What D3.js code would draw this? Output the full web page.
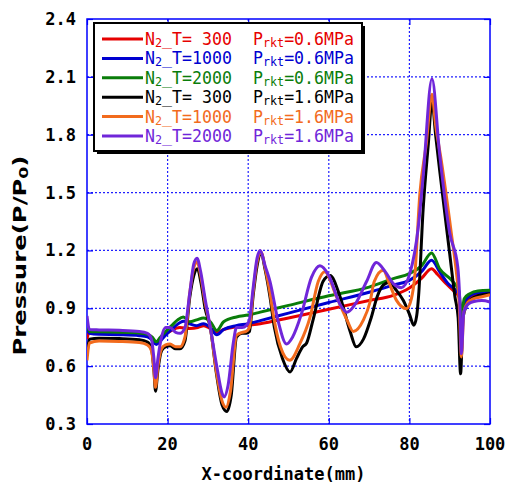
<!DOCTYPE html>
<html>
<head>
<meta charset="utf-8">
<script src="https://cdn.jsdelivr.net/npm/d3@7"></script>
<style>
  body { margin: 0; background: #fff; }
  text { white-space: pre; }
</style>
</head>
<body>
<script>
// series values: [x (mm), P/P0]
var redData = [[0,0.74],[0.6,0.78],[3,0.778],[8,0.775],[13,0.77],[15,0.765],[16.2,0.745],[17.1,0.72],[18,0.74],[19.5,0.765],[21,0.785],[23,0.8],[25.5,0.795],[27.5,0.8],[29,0.81],[30.6,0.795],[32.2,0.776],[33.9,0.79],[37,0.804],[40,0.812],[43,0.82],[50,0.85],[60,0.895],[70,0.94],[76,0.967],[80,1.005],[83,1.055],[85.5,1.105],[87,1.075],[89,1.03],[91,0.99],[92.3,0.96],[92.9,0.82],[93.6,0.92],[95,0.96],[97,0.975],[100,0.985]];
var blueData = [[0,0.8],[0.6,0.77],[3,0.765],[8,0.763],[13,0.758],[15,0.752],[16.2,0.735],[17.2,0.712],[18.2,0.73],[19.5,0.76],[21,0.79],[23,0.825],[24,0.833],[25.5,0.82],[27.2,0.81],[28.9,0.82],[30.6,0.8],[32.2,0.763],[33.9,0.79],[37,0.81],[40,0.82],[43,0.836],[50,0.875],[60,0.93],[70,0.983],[76,1.02],[80,1.045],[83,1.09],[85.5,1.149],[87.5,1.09],[89.5,1.03],[91.5,0.993],[92.3,0.97],[92.9,0.84],[93.6,0.93],[95,0.965],[97,0.98],[100,0.985]];
var greenData = [[0,0.82],[0.6,0.78],[3,0.778],[8,0.776],[13,0.772],[15,0.765],[16.2,0.75],[17.2,0.726],[18.2,0.75],[19.5,0.78],[21,0.81],[22.5,0.84],[23.9,0.855],[25.5,0.83],[27.2,0.84],[28.9,0.85],[30.6,0.83],[32.2,0.785],[33.9,0.83],[37.1,0.855],[40,0.865],[43,0.88],[50,0.915],[60,0.965],[70,1.01],[76,1.054],[80,1.08],[83,1.12],[85.5,1.187],[87.5,1.105],[90.5,1.045],[92.3,0.99],[92.9,0.855],[93.6,0.95],[95,0.976],[97,0.99],[100,0.993]];
var blackData = [[0,0.66],[0.6,0.74],[3,0.745],[8,0.743],[13,0.737],[15,0.725],[16,0.69],[16.6,0.58],[17,0.47],[17.6,0.58],[18.5,0.68],[19.5,0.7],[20.6,0.706],[22,0.69],[23.1,0.69],[24.3,0.73],[25.5,0.957],[26.5,1.07],[27.4,1.105],[28.3,1.03],[29.3,0.9],[30.6,0.8],[32.2,0.55],[33.5,0.4],[34.7,0.365],[35.8,0.45],[37.1,0.75],[38.5,0.77],[39.5,0.77],[40.3,0.78],[41.2,0.96],[42.2,1.12],[43.2,1.185],[44.2,1.1],[45.4,0.96],[46.5,0.8],[48.5,0.64],[50.4,0.57],[52,0.64],[53.5,0.7],[54.5,0.72],[56.1,0.84],[58.6,1.04],[60.3,1.07],[62.8,0.96],[65.3,0.78],[66.8,0.7],[68.6,0.74],[70.5,0.85],[72,0.96],[73.5,1.02],[75.1,1.035],[76.5,1.0],[78.5,0.94],[80,0.87],[81.1,0.812],[81.8,0.86],[82.3,0.97],[83.4,1.41],[84.7,1.754],[85.6,1.975],[86.5,1.8],[87.5,1.616],[90,1.183],[91.3,0.96],[92.1,0.85],[92.7,0.56],[93.3,0.85],[94.3,0.92],[95.5,0.95],[97,0.965],[100,0.976]];
var orangeData = [[0,0.63],[0.6,0.72],[3,0.73],[8,0.728],[13,0.722],[15,0.71],[16,0.68],[16.6,0.58],[17,0.49],[17.6,0.6],[18.5,0.69],[19.5,0.71],[20.6,0.715],[22,0.7],[23.1,0.7],[24.3,0.75],[25.5,0.98],[26.5,1.11],[27.3,1.14],[28.3,1.06],[29.3,0.93],[30.6,0.8],[32.2,0.56],[33.5,0.42],[34.5,0.387],[35.6,0.47],[37.1,0.76],[38.5,0.775],[39.5,0.78],[40.3,0.8],[41.2,0.98],[42.2,1.14],[43.2,1.19],[44.2,1.11],[45.4,0.98],[46.2,0.87],[48,0.7],[50.3,0.63],[52.8,0.715],[55.3,0.85],[57.4,1.04],[59,1.09],[61.9,0.96],[64.5,0.84],[66.1,0.78],[68.6,0.84],[70.2,0.93],[71.3,1.04],[73.5,1.097],[75,1.03],[76.8,0.941],[79.3,0.898],[80.5,0.95],[81.3,1.06],[82.6,1.495],[84.2,1.754],[85.6,2.01],[86.5,1.85],[87.9,1.668],[90.4,1.29],[91.8,1.06],[92.3,0.95],[92.9,0.648],[93.5,0.88],[94.5,0.93],[96,0.95],[98,0.96],[100,0.97]];
var purpleData = [[0,0.86],[0.6,0.79],[3,0.788],[8,0.786],[13,0.78],[15,0.77],[16,0.74],[16.6,0.64],[17,0.54],[17.6,0.64],[18.5,0.75],[19.5,0.8],[20.6,0.8],[22,0.775],[23.1,0.77],[24.3,0.8],[25.5,0.98],[26.5,1.13],[27.3,1.16],[28.2,1.09],[29.3,0.95],[30.6,0.8],[32.2,0.6],[33.5,0.46],[34,0.44],[35,0.5],[36.3,0.72],[37.1,0.8],[38.5,0.8],[39.5,0.81],[40.3,0.84],[41.2,1.0],[42.2,1.16],[43,1.2],[44.2,1.12],[45.4,1.04],[47.4,0.836],[49.5,0.715],[51,0.75],[53.2,0.87],[55.7,1.06],[57.8,1.12],[60,1.07],[62.8,0.92],[64.5,0.88],[66.5,0.92],[69.4,1.04],[71.8,1.137],[74,1.09],[76,1.028],[78,1.007],[80.1,1.08],[82.2,1.32],[83.4,1.58],[85.6,2.09],[87.5,1.70],[90,1.29],[92,1.115],[92.5,0.94],[92.9,0.665],[93.5,0.88],[94.5,0.92],[96,0.935],[98,0.94],[100,0.933]];

var seriesNames = ["red", "blue", "green", "black", "orange", "purple"];
var seriesColors = ["#e60000", "#0000d0", "#0a7d0a", "#000000", "#f26b1d", "#7026d9"];
var seriesData = [redData, blueData, greenData, blackData, orangeData, purpleData];
var legendT = [" 300", "1000", "2000", " 300", "1000", "2000"];
var legendP = ["0.6", "0.6", "0.6", "1.6", "1.6", "1.6"];

var xTicks = [0, 20, 40, 60, 80, 100];
var yTicks = [0.3, 0.6, 0.9, 1.2, 1.5, 1.8, 2.1, 2.4];

var margin = {top: 19, right: 18, bottom: 64, left: 87},
    width = 508 - margin.left - margin.right,
    height = 488 - margin.top - margin.bottom;

var x = d3.scaleLinear().domain([0, 100]).range([0, width]);
var y = d3.scaleLinear().domain([0.3, 2.4]).range([height, 0]);

var svg = d3.select("body").append("svg")
    .attr("width", 508)
    .attr("height", 488)
    .append("g")
        .attr("transform", "translate(" + margin.left + "," + margin.top + ")");

var gridColor = "#2020ff";

// dotted grid
svg.append("g").selectAll("line.gx")
    .data(xTicks.slice(1, -1))
    .enter().append("line")
        .attr("x1", function(d) { return x(d); })
        .attr("x2", function(d) { return x(d); })
        .attr("y1", 0).attr("y2", height)
        .attr("stroke", gridColor)
        .attr("stroke-width", 1.2)
        .attr("stroke-dasharray", "2,2");

svg.append("g").selectAll("line.gy")
    .data(yTicks.slice(1, -1))
    .enter().append("line")
        .attr("y1", function(d) { return y(d); })
        .attr("y2", function(d) { return y(d); })
        .attr("x1", 0).attr("x2", width)
        .attr("stroke", gridColor)
        .attr("stroke-width", 1.2)
        .attr("stroke-dasharray", "2,2");

// inner ticks on all four sides
var xAxisB = d3.axisBottom(x).tickValues(xTicks).tickSize(-6).tickFormat("");
var xAxisT = d3.axisTop(x).tickValues(xTicks).tickSize(-6).tickFormat("");
var yAxisL = d3.axisLeft(y).tickValues(yTicks).tickSize(-6).tickFormat("");
var yAxisR = d3.axisRight(y).tickValues(yTicks).tickSize(-6).tickFormat("");

svg.append("g").attr("transform", "translate(0," + height + ")").call(xAxisB);
svg.append("g").call(xAxisT);
svg.append("g").call(yAxisL);
svg.append("g").attr("transform", "translate(" + width + ",0)").call(yAxisR);
svg.selectAll(".tick line").attr("stroke", "#0000ff").attr("stroke-width", 1.2);
svg.selectAll(".domain").remove();

// frame
svg.append("rect")
    .attr("width", width)
    .attr("height", height)
    .attr("fill", "none")
    .attr("stroke", "#0000ff")
    .attr("stroke-width", 1.5);

// tick labels
var fmt = d3.format(".1f");
svg.append("g").selectAll("text")
    .data(yTicks)
    .enter().append("text")
        .attr("x", -11)
        .attr("y", function(d) { return y(d) + 6; })
        .attr("text-anchor", "end")
        .style("font", "bold 17px 'DejaVu Sans Mono'")
        .text(fmt);

svg.append("g").selectAll("text")
    .data(xTicks)
    .enter().append("text")
        .attr("x", function(d) { return x(d); })
        .attr("y", height + 26)
        .attr("text-anchor", "middle")
        .style("font", "bold 17px 'DejaVu Sans Mono'")
        .text(function(d) { return d; });

svg.append("text")
    .attr("x", width / 2 - 5)
    .attr("y", height + 56)
    .attr("text-anchor", "middle")
    .style("font", "bold 17px 'DejaVu Sans Mono'")
    .text("X-coordinate(mm)");

var yTitle = svg.append("text")
    .attr("transform", "translate(-61," + (height / 2 + 34) + ") rotate(-90)")
    .attr("text-anchor", "middle")
    .attr("textLength", 200)
    .attr("lengthAdjust", "spacingAndGlyphs")
    .style("font", "bold 17px 'DejaVu Sans'");
yTitle.append("tspan").text("Pressure(P/P");
yTitle.append("tspan").attr("font-size", 12).attr("dy", 2).text("0");
yTitle.append("tspan").attr("dy", -2).text(")");

// curves
var line = d3.line()
    .x(function(d) { return x(d[0]); })
    .y(function(d) { return y(d[1]); })
    .curve(d3.curveMonotoneX);

svg.append("clipPath").attr("id", "clip")
    .append("rect").attr("width", width).attr("height", height);

svg.append("g")
    .attr("clip-path", "url(#clip)")
    .selectAll("path")
    .data(seriesData)
    .enter().append("path")
        .attr("class", function(d, i) { return "line " + seriesNames[i]; })
        .attr("d", line)
        .attr("fill", "none")
        .attr("stroke", function(d, i) { return seriesColors[i]; })
        .attr("stroke-width", 3)
        .attr("stroke-linejoin", "round");

// legend
var legend = svg.append("g").attr("transform", "translate(7,4)");
legend.append("rect")
    .attr("x", 3).attr("y", 3)
    .attr("width", 268).attr("height", 128)
    .attr("fill", "#000");
legend.append("rect")
    .attr("width", 268).attr("height", 128)
    .attr("fill", "#fff")
    .attr("stroke", "#000")
    .attr("stroke-width", 2);

var rows = legend.selectAll("g.row")
    .data(seriesColors)
    .enter().append("g")
        .attr("transform", function(d, i) { return "translate(0," + (16 + i * 19.4) + ")"; });

rows.append("line")
    .attr("x1", 8).attr("x2", 49)
    .attr("stroke", function(d) { return d; })
    .attr("stroke-width", 3);

var tLabel = rows.append("text")
    .attr("x", 51).attr("y", 6)
    .attr("textLength", 87)
    .attr("lengthAdjust", "spacingAndGlyphs")
    .attr("fill", function(d) { return d; })
    .style("font", "17px 'DejaVu Sans Mono'");
tLabel.append("tspan").text("N");
tLabel.append("tspan").attr("font-size", 12).attr("dy", 2).text("2");
tLabel.append("tspan").attr("dy", -2).text(function(d, i) { return "_T=" + legendT[i]; });

var pLabel = rows.append("text")
    .attr("x", 159).attr("y", 6)
    .attr("textLength", 101)
    .attr("lengthAdjust", "spacingAndGlyphs")
    .attr("fill", function(d) { return d; })
    .style("font", "17px 'DejaVu Sans Mono'");
pLabel.append("tspan").text("P");
pLabel.append("tspan").attr("font-size", 12).attr("dy", 2).text("rkt");
pLabel.append("tspan").attr("dy", -2).text(function(d, i) { return "=" + legendP[i] + "MPa"; });
</script>
</body>
</html>
